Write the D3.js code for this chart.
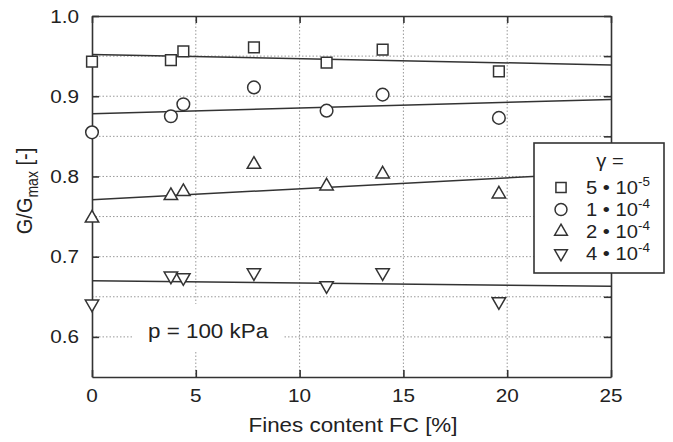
<!DOCTYPE html>
<html>
<head>
<meta charset="utf-8">
<script src="https://cdn.jsdelivr.net/npm/d3@7"></script>
<style>
  body { margin: 0; background: #fff; }
  text { font-family: "Liberation Sans", Arial, Helvetica, sans-serif; fill: #222; }
</style>
</head>
<body>
<script>
// chart data
var finesContent = [0, 3.8, 4.4, 7.8, 11.3, 14.0, 19.6];
var ratio5e5 = [0.943, 0.945, 0.956, 0.961, 0.942, 0.958, 0.931];
var ratio1e4 = [0.855, 0.875, 0.890, 0.911, 0.882, 0.902, 0.873];
var ratio2e4 = [0.748, 0.776, 0.781, 0.815, 0.788, 0.803, 0.778];
var ratio4e4 = [0.641, 0.676, 0.674, 0.680, 0.664, 0.680, 0.644];
// regression lines, value at FC = 0 and FC = 25
var fitFC = [0, 25];
var fit5e5 = [0.952, 0.939];
var fit1e4 = [0.878, 0.896];
var fit2e4 = [0.771, 0.805];
var fit4e4 = [0.670, 0.663];
var strainLabels = [["5", "-5"], ["1", "-4"], ["2", "-4"], ["4", "-4"]];
var xTicks = [0, 5, 10, 15, 20, 25];
var yTicks = [0.6, 0.7, 0.8, 0.9, 1.0];
var yGrid = [0.6, 0.65, 0.7, 0.75, 0.8, 0.85, 0.9, 0.95];

var svgWidth = 673;
var svgHeight = 442;
var margin = { top: 16, right: 62, bottom: 65, left: 92 };
var width = svgWidth - margin.left - margin.right;
var height = svgHeight - margin.top - margin.bottom;
var stretch = 1.12; // the glyphs in the figure are a little wide

var ink = "#333";

var svg = d3.select("body").append("svg")
  .attr("width", svgWidth)
  .attr("height", svgHeight);

var chart = svg.append("g")
  .attr("transform", `translate(${margin.left}, ${margin.top})`);

var x = d3.scaleLinear().domain([0, 25]).range([0, width]);
var y = d3.scaleLinear().domain([0.55, 1.0]).range([height, 0]);

// place a text with the horizontal stretch
function label(parent, px, py, size, anchor) {
  return parent.append("text")
    .attr("transform", `translate(${px}, ${py}) scale(${stretch}, 1)`)
    .attr("font-size", size)
    .attr("text-anchor", anchor || "start");
}

// dotted grid
chart.append("g").selectAll("line")
  .data(yGrid)
  .enter()
  .append("line")
  .attr("x1", 0).attr("x2", width)
  .attr("y1", d => y(d)).attr("y2", d => y(d))
  .attr("stroke", "#999")
  .attr("stroke-width", 1)
  .attr("stroke-dasharray", "1.5,2");

chart.append("g").selectAll("line")
  .data(xTicks.slice(1, -1))
  .enter()
  .append("line")
  .attr("x1", d => x(d)).attr("x2", d => x(d))
  .attr("y1", 0).attr("y2", height)
  .attr("stroke", "#999")
  .attr("stroke-width", 1)
  .attr("stroke-dasharray", "1.5,2");

// axes with inward ticks on all four sides
function styleAxis(g) {
  g.selectAll("path").attr("stroke", ink).attr("stroke-width", 1.6);
  g.selectAll("line").attr("stroke", ink).attr("stroke-width", 1.6);
  g.selectAll("text").remove();
}

chart.append("g")
  .attr("transform", `translate(0, ${height})`)
  .call(d3.axisBottom(x).tickValues(xTicks).tickSizeInner(-7).tickSizeOuter(0))
  .call(styleAxis);
chart.append("g")
  .call(d3.axisTop(x).tickValues(xTicks).tickSizeInner(-7).tickSizeOuter(0))
  .call(styleAxis);
chart.append("g")
  .call(d3.axisLeft(y).tickValues(yTicks).tickSizeInner(-7).tickSizeOuter(0))
  .call(styleAxis);
chart.append("g")
  .attr("transform", `translate(${width}, 0)`)
  .call(d3.axisRight(y).tickValues(yGrid.concat([1.0])).tickSizeInner(-7).tickSizeOuter(0))
  .call(styleAxis);

// tick labels
xTicks.forEach(function (t) {
  label(chart, x(t), height + 25, 18.5, "middle").text(t);
});
yTicks.forEach(function (t) {
  label(chart, -13, y(t) + 6.5, 18.5, "end").text(t.toFixed(1));
});

// pressure note on a white patch
chart.append("rect")
  .attr("x", 40).attr("y", y(0.6) - 33)
  .attr("width", 152).attr("height", 48)
  .attr("fill", "#fff");
label(chart, 56, y(0.6) + 1, 20).text("p = 100 kPa");

// fitted lines
var series = [
  { values: ratio5e5, fit: fit5e5, symbol: d3.symbolSquare, size: 115, rotate: 0 },
  { values: ratio1e4, fit: fit1e4, symbol: d3.symbolCircle, size: 125, rotate: 0 },
  { values: ratio2e4, fit: fit2e4, symbol: d3.symbolTriangle, size: 78, rotate: 0 },
  { values: ratio4e4, fit: fit4e4, symbol: d3.symbolTriangle, size: 78, rotate: 180 }
];

var line = d3.line()
  .x(d => x(d[0]))
  .y(d => y(d[1]));

series.forEach(function (s) {
  chart.append("path")
    .datum(fitFC.map((f, i) => [f, s.fit[i]]))
    .attr("d", line)
    .attr("fill", "none")
    .attr("stroke", ink)
    .attr("stroke-width", 1.5);
});

// markers
series.forEach(function (s) {
  chart.append("g").selectAll("path")
    .data(finesContent.map((f, i) => [f, s.values[i]]))
    .enter()
    .append("path")
    .attr("d", d3.symbol().type(s.symbol).size(s.size))
    .attr("transform", d => `translate(${x(d[0])}, ${y(d[1])}) rotate(${s.rotate})`)
    .attr("fill", "#fff")
    .attr("stroke", ink)
    .attr("stroke-width", 1.5);
});

// legend
var legend = svg.append("g").attr("transform", "translate(534, 143)");
legend.append("rect")
  .attr("width", 130).attr("height", 130)
  .attr("fill", "#fff")
  .attr("stroke", ink)
  .attr("stroke-width", 1.6);
label(legend, 76, 24, 18, "middle").text("\u03b3 =");

series.forEach(function (s, i) {
  var cy = 44.5 + i * 22;
  legend.append("path")
    .attr("d", d3.symbol().type(s.symbol).size(s.size * 0.9))
    .attr("transform", `translate(27, ${cy}) rotate(${s.rotate})`)
    .attr("fill", "#fff")
    .attr("stroke", ink)
    .attr("stroke-width", 1.5);
  var t = label(legend, 52, cy + 6.5, 18);
  t.append("tspan").text(strainLabels[i][0] + " \u2022 10");
  t.append("tspan").attr("font-size", 12).attr("dy", -8).text(strainLabels[i][1]);
});

// axis titles
label(svg, 353, 432, 20, "middle").text("Fines content FC [%]");

var yTitle = svg.append("text")
  .attr("transform", `translate(32, 191) scale(${stretch}, 1) rotate(-90)`)
  .attr("font-size", 20)
  .attr("text-anchor", "middle");
yTitle.append("tspan").text("G/G");
yTitle.append("tspan").attr("font-size", 14).attr("dy", 5).text("max");
yTitle.append("tspan").attr("dy", -5).text(" [-]");
</script>
</body>
</html>
